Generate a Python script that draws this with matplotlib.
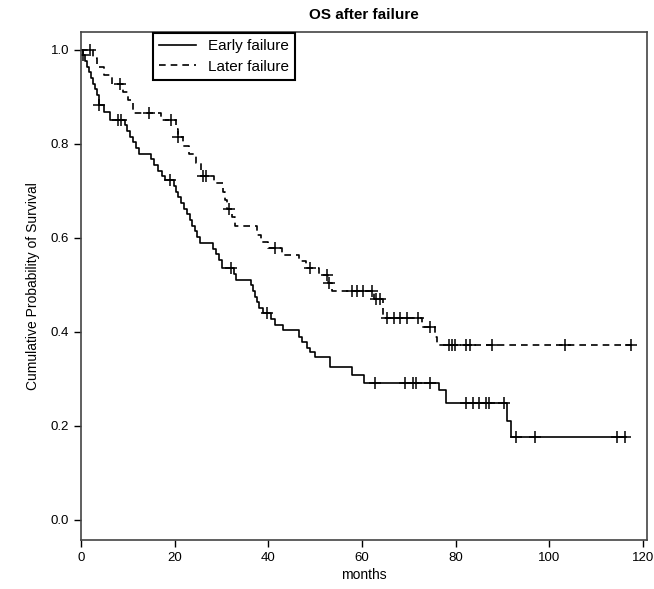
import numpy as np
import matplotlib
matplotlib.use("Agg")
import matplotlib.pyplot as plt

plt.rcParams['font.family'] = ['Liberation Sans', 'DejaVu Sans']

# Early failure: step times (months) and survival after each step
early_t = [0, 0.4, 0.8, 1.2, 1.6, 2.1, 2.6, 3.0, 3.4, 3.8, 5.0, 6.2,
           9.3, 9.9, 10.5, 11.1, 11.7, 12.3, 14.9, 15.6, 16.4, 17.2, 18.0,
           19.8, 20.3, 20.8, 21.4, 22.0, 22.6, 23.2, 23.8, 24.3, 24.8, 25.3,
           28.1, 28.8, 29.5, 30.2, 32.6, 33.2, 36.2, 36.8, 37.2, 37.6, 38.0,
           38.8, 40.6, 41.4, 43.2, 46.5, 47.3, 48.2, 49.0, 50.0, 53.2, 57.8,
           60.5, 76.5, 78.0, 91.0, 91.8]
early_s = [1.0, 0.988, 0.976, 0.964, 0.952, 0.940, 0.928, 0.916, 0.904, 0.882, 0.868, 0.851,
           0.839, 0.827, 0.815, 0.803, 0.791, 0.779, 0.767, 0.755, 0.743, 0.731, 0.722,
           0.710, 0.698, 0.686, 0.674, 0.662, 0.650, 0.638, 0.626, 0.614, 0.602, 0.589,
           0.577, 0.565, 0.553, 0.535, 0.523, 0.511, 0.499, 0.487, 0.475, 0.463, 0.451,
           0.439, 0.427, 0.415, 0.403, 0.390, 0.378, 0.366, 0.356, 0.347, 0.326, 0.309,
           0.291, 0.277, 0.249, 0.210, 0.177]
early_end = 116.4
early_cens = [0.4, 3.9, 7.9, 8.6, 18.9, 32.0, 39.8, 62.8, 69.2, 70.9, 71.6, 74.5,
              82.2, 83.7, 85.1, 86.4, 87.2, 90.4, 93.0, 97.0, 114.4, 116.2]

# Later failure
later_t = [0, 2.5, 3.5, 5.0, 6.5, 9.0, 10.0, 11.0, 17.0, 20.3, 20.6, 21.8,
           23.0, 24.5, 25.6, 28.5, 30.4, 30.8, 31.2, 32.2, 32.8, 37.6, 38.5,
           40.0, 43.0, 46.5, 48.0, 50.8, 52.8, 53.6, 62.6, 64.4, 72.8, 75.6, 76.0]
later_s = [1.0, 0.982, 0.964, 0.946, 0.928, 0.910, 0.892, 0.866, 0.850, 0.832, 0.814, 0.796,
           0.778, 0.760, 0.732, 0.716, 0.698, 0.680, 0.662, 0.644, 0.626, 0.605, 0.592,
           0.578, 0.564, 0.550, 0.536, 0.521, 0.504, 0.487, 0.470, 0.430, 0.410, 0.390, 0.373]
later_end = 117.5
later_cens = [1.9, 8.3, 14.6, 19.2, 20.7, 26.0, 26.6, 31.6, 41.5, 49.0, 52.5, 52.9,
              57.9, 59.0, 60.2, 62.2, 63.0, 63.8, 65.4, 66.8, 68.2, 69.6, 72.0,
              74.5, 78.5, 79.2, 79.8, 82.3, 83.1, 87.8, 103.4, 117.5]


def draw_km(ax, t, s, end, cens, ls, label):
    tt = np.append(t, end)
    ss = np.append(s, s[-1])
    ax.step(tt, ss, where='post', color='black', lw=1.2, ls=ls, label=label)
    idx = np.searchsorted(t, cens, side='right') - 1
    ax.plot(cens, np.array(s)[idx], ls='none', marker='+', color='black',
            markersize=9, markeredgewidth=1.1)


fig = plt.figure(figsize=(6.54, 5.89), dpi=100)
ax = fig.add_axes([0.124, 0.083, 0.866, 0.863])

draw_km(ax, early_t, early_s, early_end, early_cens, '-', 'Early failure')
draw_km(ax, later_t, later_s, later_end, later_cens, (0, (4, 3)), 'Later failure')

ax.set_xlim(0, 121)
ax.set_ylim(-0.043, 1.038)
ax.set_xticks(np.arange(0, 121, 20))
ax.set_yticks(np.arange(0, 1.01, 0.2))
ax.set_yticklabels([f'{v:.1f}' for v in np.arange(0, 1.01, 0.2)])
ax.tick_params(direction='out', length=5, width=1, labelsize=9.5, colors='black')
for sp in ax.spines.values():
    sp.set_linewidth(1.2)
    sp.set_color('#444444')

ax.set_xlabel('months', fontsize=10, labelpad=3)
ax.set_ylabel('Cumulative Probability of Survival', fontsize=10, labelpad=8)
ax.set_title('OS after failure', fontsize=11, fontweight='bold', pad=9)

leg = ax.legend(loc='upper left', bbox_to_anchor=(0.127, 0.998), fontsize=11,
                fancybox=False, framealpha=1, edgecolor='black',
                handlelength=2.4, borderpad=0.4, labelspacing=0.45, borderaxespad=0)
leg.get_frame().set_linewidth(1.5)

fig.savefig('out.png', dpi=100)
